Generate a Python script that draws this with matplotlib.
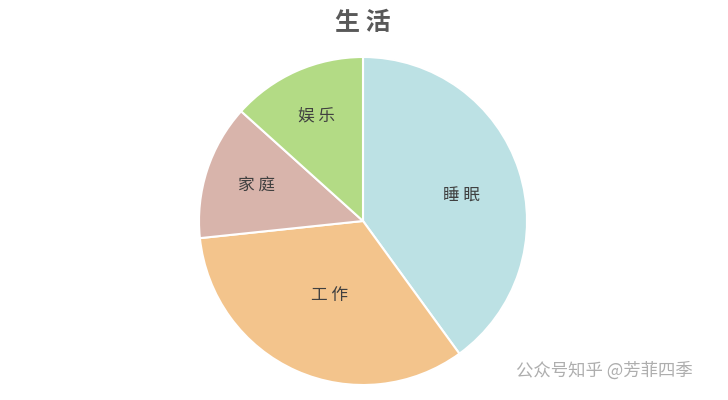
import numpy as np
import matplotlib.pyplot as plt

plt.rcParams['font.family'] = ['Noto Sans CJK SC', 'DejaVu Sans']

categories = ["睡 眠", "工 作", "家 庭", "娱 乐"]
hours = [6, 5, 2, 2]
colors = ["#BCE1E4", "#F3C48C", "#D8B4AB", "#B3DB85"]
label_r = [0.62, 0.50, 0.68, 0.70]
label_shift = [-4, 0, 0, 0]

fig = plt.figure(figsize=(7.28, 4.0), dpi=100, facecolor="white")
ax = fig.add_axes([199/728, 15/400, 328/728, 328/400])
wedges, texts = ax.pie(hours, labels=categories, colors=colors, startangle=90, counterclock=False,
                       labeldistance=0.6, wedgeprops=dict(edgecolor="white", linewidth=1.5),
                       textprops=dict(fontsize=12, color="#404040"))
for w, t, r, s in zip(wedges, texts, label_r, label_shift):
    a = np.deg2rad((w.theta1 + w.theta2) / 2 + s)
    t.set_position((r * np.cos(a), r * np.sin(a)))
    t.set_ha("center"); t.set_va("center")
ax.set_aspect("equal")
ax.set_xlim(-1, 1); ax.set_ylim(-1, 1)

fig.text(363/728, 1 - 23/400, "生 活", ha="center", va="center", fontsize=18, fontweight="bold", color="#595959")
fig.text(604/728, 1 - 371/400, "公众号知乎 @芳菲四季", ha="center", va="center", fontsize=12.5, color="#9a9a9a", alpha=0.8)

fig.savefig("out.png", dpi=100, facecolor="white")
